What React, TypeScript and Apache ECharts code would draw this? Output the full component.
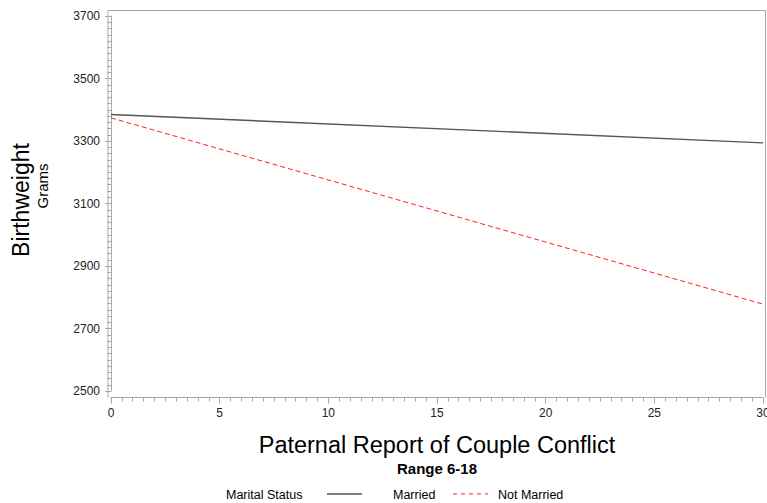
import React, { useEffect, useRef } from "react";
import * as echarts from "echarts";

const conflict = [0, 30];
const marriedValues = [3385, 3294];
const notMarriedValues = [3374, 2778];
const yTicks = [2500, 2700, 2900, 3100, 3300, 3500, 3700];
const xTicks = [0, 5, 10, 15, 20, 25, 30];

const FONT = "Liberation Sans, Arial, sans-serif";
const AXIS_GRAY = "#a8a8a8";

export default function App() {
  const ref = useRef<HTMLDivElement>(null);
  useEffect(() => {
    if (!ref.current) return;
    const chart = echarts.init(ref.current, undefined, { renderer: "svg" });
    const option: any = {
      animation: false,
      backgroundColor: "#fff",
      grid: { left: 111, right: 4, top: 16, bottom: 112, containLabel: false, outerBoundsMode: "none" },
      xAxis: {
        type: "value",
        min: xTicks[0],
        max: xTicks[xTicks.length - 1],
        interval: 5,
        offset: 6.5,
        axisLine: { show: true, lineStyle: { color: AXIS_GRAY, width: 1 } },
        axisTick: { show: true, length: 6, lineStyle: { color: AXIS_GRAY } },
        minorTick: { show: true, splitNumber: 10, length: 4, lineStyle: { color: AXIS_GRAY } },
        splitLine: { show: false },
        axisLabel: { color: "#222", fontFamily: FONT, fontSize: 12, margin: 9 },
      },
      yAxis: {
        type: "value",
        min: yTicks[0],
        max: yTicks[yTicks.length - 1],
        interval: 200,
        offset: 3,
        axisLine: { show: true, lineStyle: { color: AXIS_GRAY, width: 1 } },
        axisTick: { show: true, length: 6, lineStyle: { color: AXIS_GRAY } },
        minorTick: { show: true, splitNumber: 10, length: 4, lineStyle: { color: AXIS_GRAY } },
        splitLine: { show: false },
        axisLabel: { color: "#222", fontFamily: FONT, fontSize: 12, margin: 8, formatter: (v: number) => String(v) },
      },
      series: [
        {
          name: "Married",
          type: "line",
          data: conflict.map((x, i) => [x, marriedValues[i]]),
          showSymbol: false,
          symbol: "none",
          lineStyle: { color: "#555", width: 1.4, type: "solid" },
        },
        {
          name: "Not Married",
          type: "line",
          data: conflict.map((x, i) => [x, notMarriedValues[i]]),
          showSymbol: false,
          symbol: "none",
          lineStyle: { color: "#ff2020", width: 1, type: [5, 3] },
        },
      ],
      graphic: [
        {
          type: "polyline",
          shape: { points: [[108, 397.5], [108, 10.5], [765.5, 10.5], [765.5, 397.5]] },
          style: { stroke: AXIS_GRAY, fill: null, lineWidth: 1 },
          silent: true,
        },
        {
          type: "text",
          x: 21,
          y: 200,
          rotation: Math.PI / 2,
          style: { text: "Birthweight", font: `23px ${FONT}`, fill: "#000", textAlign: "center", textVerticalAlign: "middle" },
        },
        {
          type: "text",
          x: 42,
          y: 186,
          rotation: Math.PI / 2,
          style: { text: "Grams", font: `15px ${FONT}`, fill: "#000", textAlign: "center", textVerticalAlign: "middle" },
        },
        {
          type: "text",
          x: 437,
          y: 445,
          style: { text: "Paternal Report of Couple Conflict", font: `23.5px ${FONT}`, fill: "#000", textAlign: "center", textVerticalAlign: "middle" },
        },
        {
          type: "text",
          x: 437,
          y: 468,
          style: { text: "Range 6-18", font: `bold 15px ${FONT}`, fill: "#000", textAlign: "center", textVerticalAlign: "middle" },
        },
        {
          type: "text",
          x: 226,
          y: 495,
          style: { text: "Marital Status", font: `12.5px ${FONT}`, fill: "#000", textAlign: "left", textVerticalAlign: "middle" },
        },
        {
          type: "line",
          shape: { x1: 327, y1: 494, x2: 362, y2: 494 },
          style: { stroke: "#000", lineWidth: 1 },
        },
        {
          type: "text",
          x: 393,
          y: 495,
          style: { text: "Married", font: `12.5px ${FONT}`, fill: "#000", textAlign: "left", textVerticalAlign: "middle" },
        },
        {
          type: "line",
          shape: { x1: 453, y1: 494, x2: 488, y2: 494 },
          style: { stroke: "#ff2020", lineWidth: 1, lineDash: [4, 4] },
        },
        {
          type: "text",
          x: 498,
          y: 495,
          style: { text: "Not Married", font: `12.5px ${FONT}`, fill: "#000", textAlign: "left", textVerticalAlign: "middle" },
        },
      ],
    };
    chart.setOption(option);
    return () => chart.dispose();
  }, []);
  return <div ref={ref} style={{ width: 767, height: 503, position: "absolute", left: 0, top: 0 }} />;
}
